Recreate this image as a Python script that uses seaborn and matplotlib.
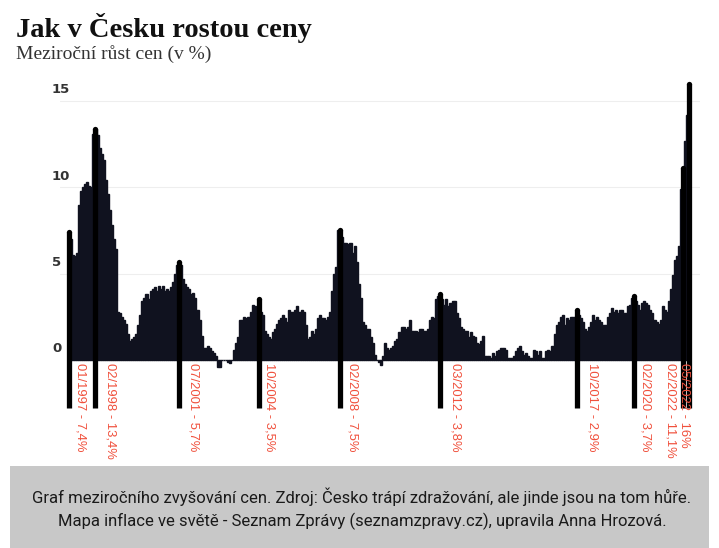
import numpy as np
import pandas as pd
import matplotlib
matplotlib.use("Agg")
import matplotlib.pyplot as plt
import matplotlib.transforms as mtransforms
from matplotlib.patches import Rectangle
import seaborn as sns

# Year-on-year consumer price growth in Czechia (%), monthly, from 01/1997
start_month = "1997-01"
cpi_yoy = [
    7.4, 7.0, 6.1, 6.0, 6.2, 9.0, 9.8, 10.0, 10.2, 10.3, 10.1, 10.0,     # 1997
    13.1, 13.4, 13.0, 12.3, 11.9, 11.6, 10.4, 9.6, 8.7, 7.8, 7.0, 6.4,   # 1998
    2.8, 2.7, 2.5, 2.3, 2.1, 1.5, 1.1, 1.2, 1.3, 1.5, 2.0, 2.6,          # 1999
    3.4, 3.6, 3.8, 3.5, 4.0, 4.1, 4.2, 4.0, 4.3, 4.1, 4.3, 4.0,          # 2000
    4.1, 4.0, 4.2, 4.5, 5.0, 5.5, 5.7, 5.5, 4.7, 4.4, 4.2, 4.1,          # 2001
    3.8, 3.9, 3.6, 2.9, 2.3, 1.4, 0.7, 0.7, 0.8, 0.7, 0.5, 0.4,          # 2002
    0.2, -0.4, -0.4, 0.0, 0.0, 0.0, -0.1, -0.2, 0.0, 0.6, 1.0, 1.3,      # 2003
    2.3, 2.3, 2.5, 2.4, 2.5, 2.8, 3.2, 3.1, 3.0, 3.5, 2.8, 2.6,          # 2004
    1.7, 1.5, 1.3, 1.2, 1.6, 1.8, 2.1, 2.3, 2.4, 2.6, 2.4, 2.2,          # 2005
    2.9, 2.8, 2.8, 2.9, 3.1, 2.8, 2.9, 2.8, 2.0, 1.2, 1.3, 1.7,          # 2006
    1.5, 1.8, 2.4, 2.6, 2.4, 2.4, 2.3, 2.5, 2.8, 4.0, 5.0, 5.4,          # 2007
    7.5, 7.5, 7.1, 6.8, 6.8, 6.7, 6.8, 6.2, 6.6, 5.7, 4.4, 3.6,          # 2008
    2.2, 2.0, 1.8, 1.8, 1.3, 1.0, 0.3, 0.0, -0.1, -0.3, 0.2, 1.0,        # 2009
    0.7, 0.6, 0.7, 0.8, 1.1, 1.2, 1.6, 1.9, 1.9, 1.8, 1.9, 2.3,          # 2010
    1.7, 1.7, 1.7, 1.6, 1.8, 1.8, 1.7, 1.7, 1.8, 2.3, 2.5, 2.4,          # 2011
    3.5, 3.7, 3.8, 3.5, 3.2, 3.5, 3.1, 3.3, 3.4, 3.4, 2.7, 2.4,          # 2012
    1.9, 1.8, 1.7, 1.7, 1.3, 1.6, 1.4, 1.3, 1.0, 0.9, 1.1, 1.4,          # 2013
    0.2, 0.2, 0.2, 0.1, 0.4, 0.2, 0.5, 0.6, 0.7, 0.7, 0.6, 0.1,          # 2014
    0.1, 0.1, 0.2, 0.5, 0.7, 0.8, 0.5, 0.3, 0.4, 0.2, 0.1, 0.1,          # 2015
    0.6, 0.5, 0.3, 0.5, 0.1, 0.1, 0.5, 0.6, 0.5, 0.8, 1.5, 2.0,          # 2016
    2.2, 2.5, 2.6, 2.0, 2.4, 2.3, 2.5, 2.5, 2.5, 2.9, 2.6, 2.4,          # 2017
    2.2, 1.8, 1.7, 1.9, 2.2, 2.6, 2.3, 2.5, 2.3, 2.2, 2.0, 2.0,          # 2018
    2.5, 2.7, 3.0, 2.8, 2.9, 2.7, 2.9, 2.9, 2.7, 2.7, 3.1, 3.2,          # 2019
    3.6, 3.7, 3.4, 3.2, 2.9, 3.3, 3.4, 3.3, 3.2, 2.9, 2.7, 2.3,          # 2020
    2.2, 2.1, 2.3, 3.1, 2.9, 2.8, 3.4, 4.1, 4.9, 5.8, 6.0, 6.6,          # 2021
    9.9, 11.1, 12.7, 14.2, 16.0,                                         # 2022
]

# Highlighted months and their values
marker_dates = ["01/1997", "02/1998", "07/2001", "10/2004", "02/2008",
                "03/2012", "10/2017", "02/2020", "02/2022", "05/2022"]
marker_values = [7.4, 13.4, 5.7, 3.5, 7.5, 3.8, 2.9, 3.7, 11.1, 16]

y_ticks = [0, 5, 10, 15]

title = "Jak v Česku rostou ceny"
subtitle = "Meziroční růst cen (v %)"
caption = ["Graf meziročního zvyšování cen. Zdroj: Česko trápí zdražování, ale jinde jsou na tom hůře.",
           "Mapa inflace ve světě - Seznam Zprávy (seznamzpravy.cz), upravila Anna Hrozová."]

# styling
BAR_COLOR = "#10121f"
LABEL_RED = "#f0503c"
label_shift_pt = [8, 11, 10, 8, 9, 11, 11, 8, -9, -4]

W, H = 719, 548

sns.set_theme(style="white")
fig = plt.figure(figsize=(W / 100, H / 100), dpi=100)
fig.patch.set_facecolor("white")
ax = fig.add_axes([60 / W, (H - 467) / H, 640 / W, (467 - 75) / H])

df = pd.DataFrame({
    "month": pd.period_range(start_month, periods=len(cpi_yoy), freq="M").strftime("%m/%Y"),
    "cpi": cpi_yoy,
})
df["idx"] = np.arange(len(df))

# edge in the bar colour closes the hairline gaps between neighbouring months
sns.barplot(data=df, x="idx", y="cpi", color=BAR_COLOR, saturation=1, width=1.0,
            linewidth=1.0, edgecolor=BAR_COLOR, errorbar=None, ax=ax, zorder=2)

# faint gridlines
for v in y_ticks[1:]:
    ax.axhline(v, color="#eeeeee", lw=0.8, zorder=0)

ax.set_xlim(-4.4, 309.3)
ax.set_ylim(-6.2, 16.5)
ax.set_xticks([])
ax.set_yticks([])
ax.set_xlabel("")
ax.set_ylabel("")
for s in ax.spines.values():
    s.set_visible(False)

# y labels sit a bit above their gridlines, left-aligned
ytrans = mtransforms.blended_transform_factory(ax.transAxes, ax.transData)
for v in y_ticks:
    ax.text(-0.0125, v + 0.65, str(v), transform=ytrans, ha="left", va="center",
            fontsize=9.5, fontweight="bold", color="#333333", family="DejaVu Sans")

# highlighted months: thick black markers and red rotated labels
lookup = dict(zip(df["month"], df["idx"]))
for date, val, shift in zip(marker_dates, marker_values, label_shift_pt):
    i = lookup[date]
    ax.plot([i, i], [-2.8, val], color="black", lw=3.8, solid_capstyle="butt", zorder=3)
    ax.plot([i], [val], marker="o", ms=3.8, color="black", mec="none", zorder=3)
    txt = f"{date} - {val:g}%".replace(".", ",")
    ax.annotate(txt, xy=(i, -0.2), xytext=(shift, 0), textcoords="offset points",
                rotation=270, ha="center", va="top", color=LABEL_RED,
                fontsize=9.4, family="Liberation Sans", zorder=4)

fig.text(16 / W, 1 - 13 / H, title, ha="left", va="top", fontsize=20.5,
         fontweight="bold", family="Liberation Serif", color="#111111")
fig.text(16 / W, 1 - 45 / H, subtitle, ha="left", va="top", fontsize=14,
         family="Liberation Serif", color="#333333")

# caption box
fig.patches.append(Rectangle((10 / W, 0), 699 / W, 82 / H, transform=fig.transFigure,
                             facecolor="#c8c8c8", edgecolor="none", zorder=0))
fig.text(362 / W, 1 - 497 / H, caption[0], ha="center", va="center", fontsize=12,
         family="Roboto", color="#1a1a1a")
fig.text(362 / W, 1 - 521 / H, caption[1], ha="center", va="center", fontsize=12,
         family="Roboto", color="#1a1a1a")

fig.savefig("out.png", dpi=100)
